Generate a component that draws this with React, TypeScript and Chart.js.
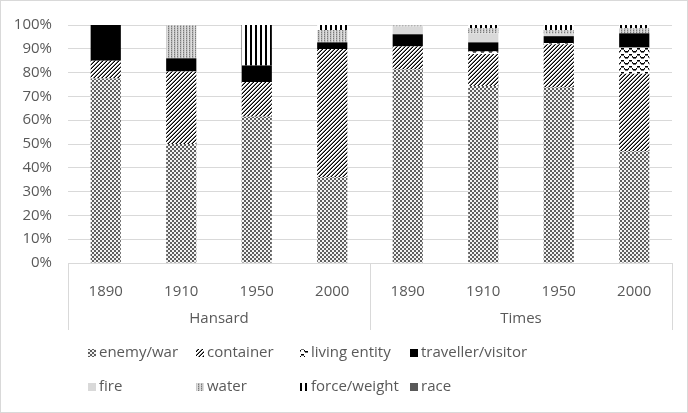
import React, { useEffect, useRef } from "react";
import { Chart, registerables } from "chart.js";

Chart.register(...registerables);

const years = ["1890", "1910", "1950", "2000", "1890", "1910", "1950", "2000"];
const groups = ["Hansard", "Times"];
const groupSize = 4;

const seriesNames = [
  "enemy/war",
  "container",
  "living entity",
  "traveller/visitor",
  "fire",
  "water",
  "force/weight",
  "race",
];

const enemyWar = [77.5, 50, 61.5, 36, 81.3, 74.4, 73.7, 47];
const container = [7.5, 30.5, 14.5, 53.9, 9.7, 13.4, 18.2, 32.5];
const livingEntity = [0, 0, 0, 0, 0, 1.1, 0.5, 11];
const travellerVisitor = [15, 5.5, 7, 2.8, 5.1, 3.8, 2.9, 6];
const fire = [0, 0, 0, 0, 3.3, 3.8, 1.0, 0];
const water = [0, 14, 0, 5.2, 0.6, 2.1, 1.5, 2.1];
const forceWeight = [0, 0, 17, 2.1, 0, 1.4, 2.2, 1.4];
const race = [0, 0, 0, 0, 0, 0, 0, 0];

const yTicks = [0, 10, 20, 30, 40, 50, 60, 70, 80, 90, 100];

const FONT = "'Open Sans', 'Noto Sans', sans-serif";
const TEXT = "#595959";
const LINE = "#d9d9d9";

function tile(w: number, h: number, paint: (x: number, y: number) => string | null): CanvasPattern | string {
  const c = document.createElement("canvas");
  c.width = w;
  c.height = h;
  const ctx = c.getContext("2d")!;
  ctx.fillStyle = "#ffffff";
  ctx.fillRect(0, 0, w, h);
  for (let y = 0; y < h; y++) {
    for (let x = 0; x < w; x++) {
      const col = paint(x, y);
      if (col) {
        ctx.fillStyle = col;
        ctx.fillRect(x, y, 1, 1);
      }
    }
  }
  const p = ctx.createPattern(c, "repeat");
  return p || "#999";
}

function makeFills(): (CanvasPattern | string)[] {
  const checker = tile(4, 4, (x, y) => ((Math.floor(x / 2) + Math.floor(y / 2)) % 2 === 0 ? "#5e5e5e" : "#f2f2f2"));
  const diag = tile(4, 4, (x, y) => {
    const k = (x + y) % 4;
    return k === 3 ? "#000000" : k === 2 ? "#7a7a7a" : null;
  });
  const wave = tile(8, 6, (x, y) => {
    const yy = Math.round(1.5 + 1.5 * Math.sin((2 * Math.PI * x) / 8));
    return y === yy ? "#000000" : y === (yy + 1) % 6 ? "#6a6a6a" : null;
  });
  const waterP = tile(3, 2, (x, y) => {
    if (x === 0) return y === 0 ? "#7a7a7a" : "#b0b0b0";
    if (x === 1) return "#c8c8c8";
    return "#dedede";
  });
  const stripes = tile(5, 4, (x) => (x < 2 ? "#000000" : null));
  return [checker, diag, wave, "#000000", "#d9d9d9", waterP, stripes, "#595959"];
}

export default function App() {
  const ref = useRef<HTMLCanvasElement | null>(null);

  useEffect(() => {
    const canvas = ref.current;
    if (!canvas) return;
    const fills = makeFills();
    const values = [enemyWar, container, livingEntity, travellerVisitor, fire, water, forceWeight, race];

    const legendCols = [88, 196, 300, 410];
    const legendRows = [353, 387];

    const decor = {
      id: "decor",
      afterDraw(chart: any) {
        const ctx = chart.ctx as CanvasRenderingContext2D;
        const area = chart.chartArea;
        const xs = chart.scales.x;
        ctx.save();
        const half = (xs.getPixelForValue(1) - xs.getPixelForValue(0)) / 2;
        const bounds: number[] = [];
        for (let g = 0; g <= groups.length; g++) {
          const idx = g * groupSize;
          bounds.push(idx < years.length ? xs.getPixelForValue(idx) - half : xs.getPixelForValue(years.length - 1) + half);
        }
        ctx.strokeStyle = LINE;
        ctx.lineWidth = 1;
        bounds.forEach((b) => {
          const xx = Math.round(b) + 0.5;
          ctx.beginPath();
          ctx.moveTo(xx, area.bottom);
          ctx.lineTo(xx, 330);
          ctx.stroke();
        });
        ctx.fillStyle = TEXT;
        ctx.font = `15px ${FONT}`;
        ctx.textAlign = "center";
        ctx.textBaseline = "middle";
        groups.forEach((g, i) => {
          ctx.fillText(g, (bounds[i] + bounds[i + 1]) / 2, 319);
        });
        ctx.textAlign = "left";
        seriesNames.forEach((name, i) => {
          const cx = legendCols[i % 4];
          const cy = legendRows[Math.floor(i / 4)];
          ctx.fillStyle = fills[i] as any;
          ctx.fillRect(cx, cy - 4, 8, 8);
          ctx.fillStyle = TEXT;
          ctx.fillText(name, cx + 11, cy);
        });
        ctx.strokeStyle = LINE;
        ctx.strokeRect(0.5, 0.5, chart.width - 1, chart.height - 1);
        ctx.restore();
      },
    };

    const chart = new Chart(canvas, {
      type: "bar",
      data: {
        labels: years,
        datasets: seriesNames.map((name, i) => ({
          label: name,
          data: values[i],
          backgroundColor: fills[i] as any,
          borderWidth: 0,
          barPercentage: 0.8,
          categoryPercentage: 0.5,
        })),
      },
      options: {
        animation: false,
        responsive: false,
        devicePixelRatio: 1,
        layout: { padding: { top: 21, right: 16, bottom: 0, left: 0 } },
        plugins: { legend: { display: false }, tooltip: { enabled: false } },
        scales: {
          x: {
            stacked: true,
            grid: { display: false, drawTicks: false },
            border: { display: true, color: LINE },
            ticks: { color: TEXT, font: { family: FONT, size: 15 }, padding: 20, maxRotation: 0 },
            afterFit: (s: any) => {
              s.height = 150;
            },
          },
          y: {
            stacked: true,
            min: 0,
            max: 100,
            afterBuildTicks: (s: any) => {
              s.ticks = yTicks.map((v) => ({ value: v }));
            },
            grid: { color: LINE, drawTicks: false },
            border: { display: false },
            ticks: {
              color: TEXT,
              font: { family: FONT, size: 15 },
              padding: 16,
              callback: (v: any) => `${v}%`,
            },
            afterFit: (s: any) => {
              s.width = 68;
            },
          },
        },
      },
      plugins: [decor],
    });
    return () => chart.destroy();
  }, []);

  return (
    <div style={{ position: "fixed", left: 0, top: 0, width: 688, height: 413, background: "#fff" }}>
      <canvas ref={ref} width={688} height={413} style={{ width: 688, height: 413, display: "block" }} />
    </div>
  );
}
